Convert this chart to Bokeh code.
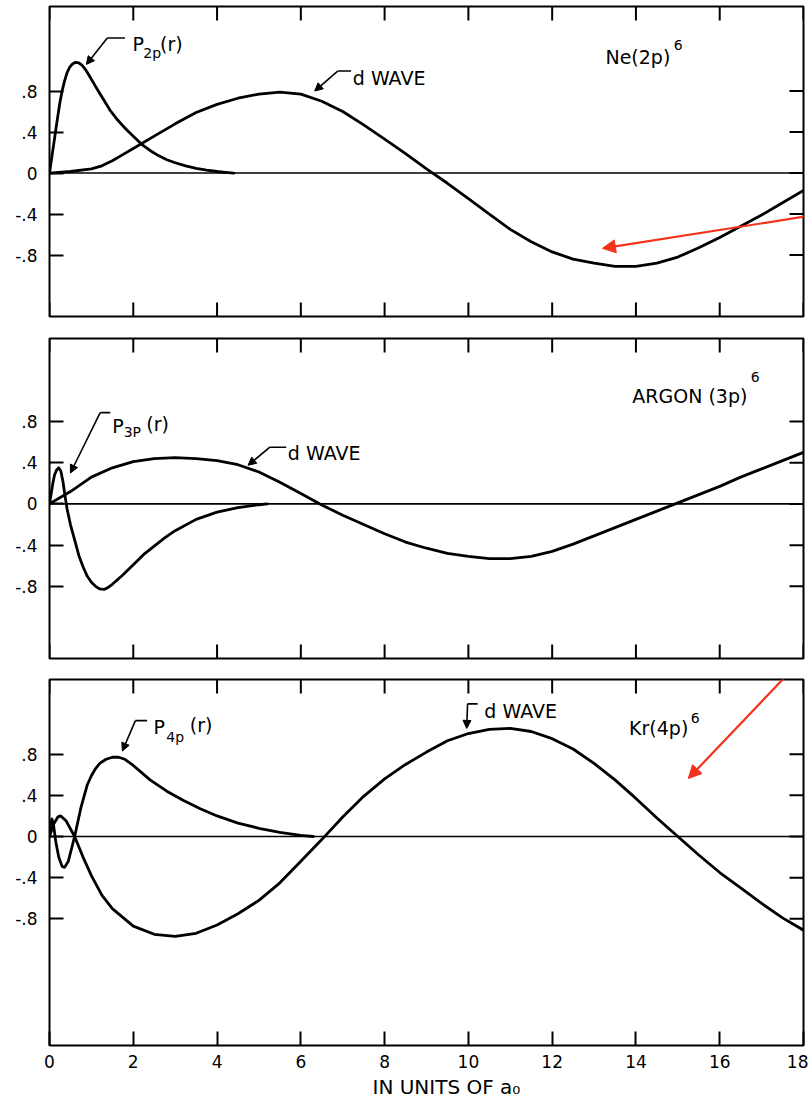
import math

from bokeh.plotting import figure
from bokeh.layouts import column
from bokeh.models import (Range1d, FixedTicker, LinearAxis, Span, Label,
                          Arrow, NormalHead, Title)
from bokeh.embed import file_html
from bokeh.resources import INLINE

# ---- radial wave functions, r in units of a0 ----
# Ne (2p)^6
ne_p_r = [0, 0.05, 0.1, 0.15, 0.2, 0.25, 0.3, 0.36, 0.42, 0.48, 0.55, 0.62,
          0.7, 0.78, 0.86, 0.95, 1.05, 1.15, 1.3, 1.45, 1.6, 1.8, 2.0, 2.2,
          2.4, 2.6, 2.8, 3.0, 3.25, 3.5, 3.75, 4.0, 4.2, 4.4]
ne_p = [0, 0.14, 0.28, 0.42, 0.56, 0.69, 0.8, 0.9, 0.98, 1.03, 1.065, 1.08,
        1.075, 1.05, 1.01, 0.95, 0.88, 0.81, 0.71, 0.61, 0.53, 0.44, 0.36,
        0.28, 0.22, 0.17, 0.13, 0.1, 0.07, 0.045, 0.028, 0.015, 0.007, 0]
ne_d_r = [0, 0.5, 1.0, 1.25, 1.5, 1.75, 2.0, 2.5, 3.0, 3.5, 4.0, 4.5, 5.0,
          5.5, 6.0, 6.5, 7.0, 7.5, 8.0, 8.5, 9.0, 9.5, 10.0, 10.5, 11.0, 11.5,
          12.0, 12.5, 13.0, 13.5, 14.0, 14.5, 15.0, 15.5, 16.0, 16.5, 17.0,
          17.5, 18.0]
ne_d = [0, 0.015, 0.04, 0.07, 0.12, 0.18, 0.24, 0.36, 0.48, 0.59, 0.67, 0.73,
        0.77, 0.79, 0.77, 0.7, 0.6, 0.47, 0.33, 0.19, 0.04, -0.1, -0.25,
        -0.4, -0.55, -0.67, -0.77, -0.84, -0.88, -0.91, -0.91, -0.88, -0.82,
        -0.73, -0.63, -0.52, -0.41, -0.29, -0.17]

# Argon (3p)^6
ar_p_r = [0, 0.04, 0.08, 0.12, 0.17, 0.22, 0.27, 0.32, 0.37, 0.42, 0.5, 0.6,
          0.7, 0.8, 0.9, 1.0, 1.1, 1.2, 1.3, 1.4, 1.5, 1.75, 2.0, 2.25, 2.5,
          2.75, 3.0, 3.5, 4.0, 4.5, 5.0, 5.2]
ar_p = [0, 0.1, 0.2, 0.28, 0.33, 0.35, 0.32, 0.22, 0.08, -0.05, -0.2, -0.35,
        -0.5, -0.61, -0.7, -0.76, -0.8, -0.825, -0.83, -0.81, -0.78, -0.69,
        -0.59, -0.49, -0.41, -0.33, -0.26, -0.15, -0.08, -0.035, -0.008, 0]
ar_d_r = [i * 0.5 for i in range(37)]
ar_d = [0, 0.12, 0.26, 0.35, 0.41, 0.44, 0.45, 0.44, 0.42, 0.38, 0.31, 0.21,
        0.1, -0.01, -0.11, -0.2, -0.29, -0.37, -0.43, -0.48, -0.51, -0.53,
        -0.53, -0.51, -0.46, -0.39, -0.31, -0.23, -0.15, -0.07, 0.01, 0.09,
        0.17, 0.26, 0.34, 0.42, 0.5]

# Kr (4p)^6
kr_p_r = [0, 0.03, 0.06, 0.1, 0.15, 0.22, 0.3, 0.36, 0.45, 0.6, 0.75, 0.9,
          1.0, 1.1, 1.2, 1.35, 1.5, 1.65, 1.8, 2.0, 2.2, 2.4, 2.8, 3.2, 3.6,
          4.0, 4.5, 5.0, 5.5, 6.0, 6.3]
kr_p = [0, 0.14, 0.17, 0.1, -0.05, -0.2, -0.29, -0.3, -0.24, 0.0, 0.28, 0.5,
        0.59, 0.66, 0.71, 0.75, 0.77, 0.77, 0.75, 0.69, 0.62, 0.55, 0.44,
        0.35, 0.27, 0.2, 0.13, 0.08, 0.04, 0.01, 0]
kr_d_r = [0, 0.1, 0.2, 0.27, 0.4, 0.6, 0.8, 1.0, 1.25, 1.5, 2.0, 2.5] + \
         [3.0 + i * 0.5 for i in range(31)]
kr_d = [0, 0.12, 0.19, 0.2, 0.15, 0.0, -0.2, -0.38, -0.57, -0.7, -0.87,
        -0.95, -0.97, -0.94, -0.86, -0.75, -0.62, -0.45, -0.24, -0.03, 0.19,
        0.39, 0.56, 0.7, 0.82, 0.93, 1.0, 1.04, 1.05, 1.02, 0.95, 0.85, 0.71,
        0.55, 0.37, 0.18, 0.0, -0.18, -0.35, -0.5, -0.65, -0.79, -0.91]

x_ticks = [0, 2, 4, 6, 8, 10, 12, 14, 16, 18]
y_ticks = [-0.8, -0.4, 0, 0.4, 0.8]
y_tick_labels = ["-.8", "-.4", "0", ".4", ".8"]
x_label = "IN UNITS OF a\u2080"

FONT = "DejaVu Sans"
RED = "#f4321c"
TICK = 14  # inward tick length, px

x_range = Range1d(0, 18)


def label_axis(ticks, labels, standoff):
    return LinearAxis(ticker=FixedTicker(ticks=ticks),
                      major_label_overrides=labels,
                      major_tick_in=TICK, major_tick_out=0,
                      major_tick_line_width=2, major_tick_line_color="black",
                      minor_tick_line_color=None, axis_line_color=None,
                      major_label_text_font=FONT,
                      major_label_text_font_size="17px",
                      major_label_text_color="black",
                      major_label_standoff=standoff)


def panel(height, top, bottom, ylo, yhi, x_labels=False):
    p = figure(width=808, height=height, x_range=x_range,
               y_range=Range1d(ylo, yhi), output_backend="svg",
               toolbar_location=None, x_axis_location=None,
               y_axis_location=None, min_border_left=49, min_border_right=5,
               min_border_top=top, min_border_bottom=bottom)
    p.grid.visible = False
    p.outline_line_color = "black"
    p.outline_line_width = 2
    p.background_fill_color = "white"
    p.border_fill_color = "white"
    ylab = {t: s for t, s in zip(y_ticks, y_tick_labels)}
    p.add_layout(label_axis(y_ticks, ylab, 12), "left")
    # inward tick marks on the unlabelled sides
    n = len(x_ticks)
    p.ray(x=[x_range.end] * len(y_ticks), y=y_ticks, length=TICK,
          length_units="screen", angle=math.pi, line_color="black",
          line_width=2)
    p.ray(x=x_ticks, y=[yhi] * n, length=TICK, length_units="screen",
          angle=-math.pi / 2, line_color="black", line_width=2)
    if x_labels:
        p.add_layout(label_axis(x_ticks, {t: str(t) for t in x_ticks}, 9),
                     "below")
    else:
        p.ray(x=x_ticks, y=[ylo] * n, length=TICK, length_units="screen",
              angle=math.pi / 2, line_color="black", line_width=2)
    p.add_layout(Span(location=0, dimension="width", line_color="black",
                      line_width=1.6))
    return p


def curve(p, r, v):
    p.line(r, v, line_color="black", line_width=2.8, line_join="round",
           line_cap="round")


def text(p, x, y, s, size=19, align="left"):
    p.add_layout(Label(x=x, y=y, text=s, text_font=FONT,
                       text_font_size=f"{size}px", text_color="black",
                       text_align=align, text_baseline="alphabetic"))


def pointer(p, x0, y0, x1, y1):
    p.add_layout(Arrow(end=NormalHead(size=8, fill_color="black",
                                      line_color="black", line_width=1),
                       x_start=x0, y_start=y0, x_end=x1, y_end=y1,
                       line_color="black", line_width=1.6))


def dash(p, x0, x1, y):
    p.add_layout(Arrow(end=None, x_start=x0, y_start=y, x_end=x1, y_end=y,
                       line_color="black", line_width=1.6))


def red_arrow(p, x0, y0, x1, y1):
    p.add_layout(Arrow(end=NormalHead(size=13, fill_color=RED,
                                      line_color=RED, line_width=1),
                       x_start=x0, y_start=y0, x_end=x1, y_end=y1,
                       line_color=RED, line_width=2.2))


# ---- Ne panel ----
p1 = panel(327, 6, 11, -1.40, 1.625)
curve(p1, ne_p_r, ne_p)
curve(p1, ne_d_r, ne_d)
text(p1, 1.98, 1.26, "P")
text(p1, 2.24, 1.17, "2p", 14)
text(p1, 2.64, 1.26, "(r)")
dash(p1, 1.38, 1.80, 1.317)
pointer(p1, 1.38, 1.317, 0.88, 1.06)
text(p1, 7.24, 0.93, "d WAVE")
dash(p1, 6.88, 7.2, 0.995)
pointer(p1, 6.88, 0.995, 6.33, 0.80)
text(p1, 14.82, 1.13, "Ne(2p)", align="right")
text(p1, 14.9, 1.25, "6", 14)
red_arrow(p1, 18.11, -0.42, 13.2, -0.735)

# ---- Argon panel ----
p2 = panel(341, 11, 10, -1.50, 1.605)
curve(p2, ar_p_r, ar_p)
curve(p2, ar_d_r, ar_d)
text(p2, 1.5, 0.76, "P")
text(p2, 1.77, 0.70, "3P", 14)
text(p2, 2.31, 0.78, "(r)")
dash(p2, 1.21, 1.45, 0.886)
pointer(p2, 1.21, 0.886, 0.5, 0.30)
text(p2, 5.69, 0.49, "d WAVE")
dash(p2, 5.26, 5.65, 0.55)
pointer(p2, 5.26, 0.55, 4.74, 0.375)
text(p2, 16.66, 1.05, "ARGON (3p)", align="right")
text(p2, 16.74, 1.23, "6", 14)

# ---- Kr panel ----
p3 = panel(438, 11, 61, -2.03, 1.525, x_labels=True)
curve(p3, kr_p_r, kr_p)
curve(p3, kr_d_r, kr_d)
text(p3, 2.48, 1.06, "P")
text(p3, 2.79, 0.97, "4p", 14)
text(p3, 3.35, 1.08, "(r)")
dash(p3, 2.05, 2.33, 1.126)
pointer(p3, 2.05, 1.126, 1.74, 0.83)
text(p3, 10.38, 1.223, "d WAVE")
dash(p3, 9.98, 10.22, 1.288)
pointer(p3, 9.98, 1.288, 9.96, 1.05)
text(p3, 15.25, 1.058, "Kr(4p)", align="right")
text(p3, 15.31, 1.155, "6", 14)
red_arrow(p3, 17.75, 1.631, 15.25, 0.563)

p3.add_layout(Title(text=x_label, align="left", offset=323,
                    text_font=FONT, text_font_size="20px",
                    text_font_style="normal", text_color="black",
                    standoff=4), "below")

layout = column(p1, p2, p3, spacing=0)
open("out.html", "w").write(file_html(layout, INLINE))
